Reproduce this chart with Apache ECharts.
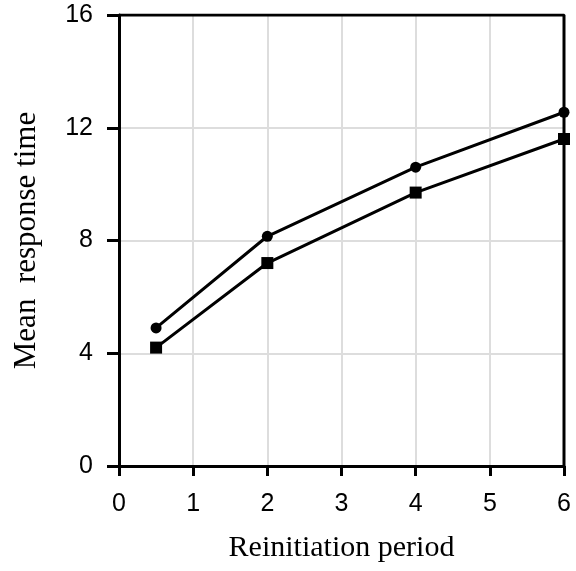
<!DOCTYPE html>
<html>
<head>
<meta charset="utf-8">
<script src="https://cdn.jsdelivr.net/npm/echarts@6/dist/echarts.min.js"></script>
<style>
  html, body { margin: 0; padding: 0; background: #fff; }
  #chart { width: 576px; height: 571px; }
</style>
</head>
<body>
<div id="chart"></div>
<script>
// Reinitiation period vs mean response time, two policies
const periods = [0.5, 2, 4, 6];
const circleSeries = [4.9, 8.15, 10.6, 12.55];
const squareSeries = [4.2, 7.2, 9.7, 11.6];
const xTicks = [0, 1, 2, 3, 4, 5, 6];
const yTicks = [0, 4, 8, 12, 16];

const pair = (xs, ys) => xs.map((x, i) => [x, ys[i]]);

const chart = echarts.init(document.getElementById('chart'), null, { renderer: 'canvas' });

const lineStyle = { color: '#000', width: 3 };
const xMin = xTicks[0], xMax = xTicks[xTicks.length - 1];
const yMin = yTicks[0], yMax = yTicks[yTicks.length - 1];

chart.setOption({
  animation: false,
  backgroundColor: '#fff',
  grid: {
    left: 119, right: 12, top: 15, bottom: 105,
    containLabel: false,
    outerBoundsMode: 'none'
  },
  xAxis: {
    type: 'value',
    min: xMin,
    max: xMax,
    interval: 1,
    name: 'Reinitiation period',
    nameLocation: 'middle',
    nameGap: 67,
    nameTextStyle: { fontFamily: 'Liberation Serif', fontSize: 30, color: '#000' },
    axisLine: { show: true, lineStyle: { color: '#000', width: 3 } },
    axisTick: { show: true, length: 10, lineStyle: { color: '#000', width: 3 } },
    axisLabel: { fontFamily: 'Liberation Sans', fontSize: 25, color: '#000', margin: 26 },
    splitLine: { show: true, lineStyle: { color: '#dddddd', width: 2 } }
  },
  yAxis: {
    type: 'value',
    min: yMin,
    max: yMax,
    interval: 4,
    name: 'Mean  response time',
    nameLocation: 'middle',
    nameGap: 77,
    nameTextStyle: { fontFamily: 'Liberation Serif', fontSize: 31, color: '#000' },
    axisLine: { show: true, lineStyle: { color: '#000', width: 3 } },
    axisTick: { show: true, length: 12, lineStyle: { color: '#000', width: 3 } },
    axisLabel: { fontFamily: 'Liberation Sans', fontSize: 25, color: '#000', margin: 26 },
    splitLine: { show: true, lineStyle: { color: '#dddddd', width: 2 } }
  },
  series: [
    {
      type: 'line',
      data: pair(periods, circleSeries),
      symbol: 'circle',
      symbolSize: 11,
      showAllSymbol: true,
      lineStyle: lineStyle,
      itemStyle: { color: '#000' },
      z: 5
    },
    {
      type: 'line',
      data: pair(periods, squareSeries),
      symbol: 'rect',
      symbolSize: 12,
      showAllSymbol: true,
      lineStyle: lineStyle,
      itemStyle: { color: '#000' },
      z: 5
    },
    // top and right frame edges
    {
      type: 'line',
      data: [[xMin, yMax], [xMax, yMax], [xMax, yMin]],
      symbol: 'none',
      lineStyle: { color: '#000', width: 3 },
      silent: true,
      z: 4
    }
  ]
});
</script>
</body>
</html>
